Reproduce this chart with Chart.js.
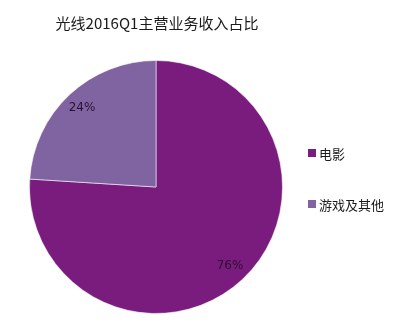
<!DOCTYPE html>
<html><head><meta charset="utf-8">
<script src="https://cdn.jsdelivr.net/npm/chart.js@4.4.1/dist/chart.umd.min.js"></script>
<style>html,body{margin:0;padding:0;background:#fff;}#wrap{width:402px;height:322px;}</style>
</head><body><div id="wrap"><canvas id="c" width="402" height="322"></canvas></div>
<script>
const title = "光线2016Q1主营业务收入占比";
const categories = ["电影", "游戏及其他"];
const values = [76, 24];
const percentLabels = ["76%", "24%"];
const colors = ["#7A1C7E", "#8064A2"];

const overlay = {
  id: 'overlay',
  afterDraw(chart) {
    const ctx = chart.ctx;
    ctx.save();
    // title
    ctx.fillStyle = '#1a1a1a';
    ctx.font = '15px "Noto Sans CJK SC", sans-serif';
    ctx.textAlign = 'center';
    ctx.textBaseline = 'middle';
    ctx.fillText(title, 157, 23);
    // slice labels
    const meta = chart.getDatasetMeta(0);
    ctx.font = '12px "DejaVu Sans", sans-serif';
    ctx.fillStyle = '#2a1030';
    meta.data.forEach((arc, i) => {
      const p = arc.getProps(['x','y','startAngle','endAngle','outerRadius'], true);
      const mid = (p.startAngle + p.endAngle) / 2;
      const r = p.outerRadius * 0.855;
      ctx.fillText(percentLabels[i], p.x + Math.cos(mid) * r, p.y + Math.sin(mid) * r);
    });
    // legend
    const ys = [153, 204];
    ctx.textAlign = 'left';
    ctx.font = '13px "Noto Sans CJK SC", sans-serif';
    categories.forEach((c, i) => {
      ctx.fillStyle = colors[i];
      ctx.fillRect(308, ys[i] - 4, 8, 8);
      ctx.fillStyle = '#1a1a1a';
      ctx.fillText(c, 319, ys[i] + 1);
    });
    ctx.restore();
  }
};

new Chart(document.getElementById('c'), {
  type: 'pie',
  data: {
    labels: categories,
    datasets: [{
      data: values,
      backgroundColor: colors,
      borderColor: 'rgba(255,255,255,0.55)',
      borderWidth: 1
    }]
  },
  options: {
    responsive: false,
    animation: false,
    devicePixelRatio: 1,
    layout: { padding: { left: 29, right: 119, top: 60, bottom: 8 } },
    plugins: { legend: { display: false }, title: { display: false }, tooltip: { enabled: false } }
  },
  plugins: [overlay]
});
</script></body></html>
